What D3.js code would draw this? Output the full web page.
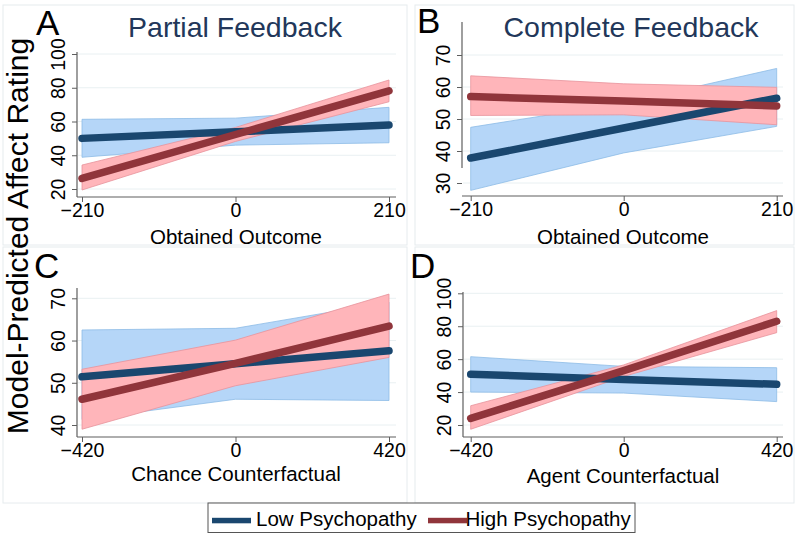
<!DOCTYPE html>
<html><head><meta charset="utf-8">
<script src="https://cdn.jsdelivr.net/npm/d3@7"></script>
<style>
body{margin:0;background:#fff}
svg{display:block}
text{font-family:"Liberation Sans",Arial,Helvetica,sans-serif}
</style>
</head><body>
<svg id="c" width="796" height="533"></svg>
<script>
// ---------- data ----------
const seriesNames = ["Low Psychopathy", "High Psychopathy"];
const panelLetters = ["A", "B", "C", "D"];
const panelTitles = ["Partial Feedback", "Complete Feedback", "", ""];
const xTitles = ["Obtained Outcome", "Obtained Outcome", "Chance Counterfactual", "Agent Counterfactual"];
const yTitle = "Model-Predicted Affect Rating";

const xPointsAB = [-210, 0, 210];
const xPointsCD = [-420, 0, 420];
const yTicksA = [20, 40, 60, 80, 100];
const yTicksB = [30, 40, 50, 60, 70];
const yTicksC = [40, 50, 60, 70];
const yTicksD = [20, 40, 60, 80, 100];

// Panel A
const lowMeanA = [50.0, 53.9, 57.9], lowLoA = [38.8, 46.0, 47.4], lowHiA = [61.3, 62.0, 68.4];
const highMeanA = [26.3, 52.3, 78.2], highLoA = [19.4, 48.2, 71.7], highHiA = [34.2, 56.5, 84.6];
// Panel B
const lowMeanB = [37.8, 47.2, 56.5], lowLoB = [27.7, 39.4, 47.7], lowHiB = [47.4, 55.0, 65.8];
const highMeanB = [57.0, 55.6, 54.1], highLoB = [51.1, 51.3, 48.2], highHiB = [63.5, 61.0, 59.9];
// Panel C
const lowMeanC = [51.4, 54.5, 57.6], lowLoC = [41.3, 46.1, 45.8], lowHiC = [62.5, 62.9, 69.1];
const highMeanC = [46.1, 54.6, 63.4], highLoC = [39.0, 49.3, 56.0], highHiC = [53.2, 60.1, 71.0];
// Panel D
const lowMeanD = [50.8, 47.7, 44.7], lowLoD = [40.0, 39.4, 34.2], lowHiD = [61.5, 55.6, 54.8];
const highMeanD = [24.0, 53.0, 83.0], highLoD = [17.4, 49.5, 76.1], highHiD = [31.7, 56.5, 89.5];

// ---------- style / layout ----------
const lineColors = ["#1a476f", "#90353b"];
const bandFill = ["#b5d6f8", "#ffb5ba"];
const bandStroke = ["#8dbbe6", "#e7939c"];
const titleColor = "#22375a";
const axisColor = "#5e5e5e";
const gridColor = "#e9f0f2";
const frameColor = "#e6ebee";

const layout = [
  {frame:[3,5,407,245], xr:[82,389], yd:[20,100], yr:[189,54], ax:197, xl:77, xrt:396, yTop:52, yBot:197,
   letter:[36,35], title:[235,37], xt:[236,244]},
  {frame:[415,5,794,245], xr:[470.7,776.7], yd:[30,70], yr:[183,55], ax:196, xl:462, xrt:783, yTop:22, yBot:168,
   letter:[417,33], title:[631,37], xt:[623,244]},
  {frame:[3,247,407,503], xr:[82,389], yd:[40,70], yr:[425,298.3], ax:437, xl:77, xrt:396, yTop:288, yBot:437,
   letter:[34,278], title:null, xt:[236,481]},
  {frame:[415,247,794,503], xr:[470.7,776.7], yd:[20,100], yr:[425,293.3], ax:437, xl:463, xrt:783, yTop:292, yBot:437,
   letter:[410,278], title:null, xt:[623,483]}
];

const panels = [
  {xs:xPointsAB, yt:yTicksA, low:[lowMeanA,lowLoA,lowHiA], high:[highMeanA,highLoA,highHiA]},
  {xs:xPointsAB, yt:yTicksB, low:[lowMeanB,lowLoB,lowHiB], high:[highMeanB,highLoB,highHiB]},
  {xs:xPointsCD, yt:yTicksC, low:[lowMeanC,lowLoC,lowHiC], high:[highMeanC,highLoC,highHiC]},
  {xs:xPointsCD, yt:yTicksD, low:[lowMeanD,lowLoD,lowHiD], high:[highMeanD,highLoD,highHiD]}
];

const svg = d3.select("#c");
svg.append("rect").attr("width",796).attr("height",533).attr("fill","#fff");

panels.forEach((p, i) => {
  const L = layout[i];
  const g = svg.append("g");
  g.append("rect").attr("x",L.frame[0]).attr("y",L.frame[1])
    .attr("width",L.frame[2]-L.frame[0]).attr("height",L.frame[3]-L.frame[1])
    .attr("fill","none").attr("stroke",frameColor).attr("stroke-width",1);

  const x = d3.scaleLinear().domain([p.xs[0], p.xs[2]]).range(L.xr);
  const y = d3.scaleLinear().domain(L.yd).range(L.yr);

  g.selectAll(".grid").data(p.yt).join("line")
    .attr("x1",L.xl+1).attr("x2",L.xrt).attr("y1",d=>y(d)).attr("y2",d=>y(d))
    .attr("stroke",gridColor).attr("stroke-width",1);

  const series = [p.low, p.high];
  series.forEach((s, k) => {
    const pts = p.xs.map((xv, j) => ({x:xv, m:s[0][j], lo:s[1][j], hi:s[2][j]}));
    const area = d3.area().x(d=>x(d.x)).y0(d=>y(d.lo)).y1(d=>y(d.hi));
    g.append("path").attr("d",area(pts)).attr("fill",bandFill[k])
      .attr("stroke",bandStroke[k]).attr("stroke-width",0.8);
  });
  series.forEach((s, k) => {
    const pts = p.xs.map((xv, j) => ({x:xv, m:s[0][j]}));
    const line = d3.line().x(d=>x(d.x)).y(d=>y(d.m));
    g.append("path").attr("d",line(pts)).attr("fill","none").attr("stroke",lineColors[k])
      .attr("stroke-width",7.5).attr("stroke-linecap","round").attr("stroke-linejoin","round");
  });

  const xAxis = d3.axisBottom(x).tickValues(p.xs).tickSize(5).tickFormat(d3.format("d"));
  const gx = g.append("g").attr("transform",`translate(0,${L.ax})`).call(xAxis);
  gx.select(".domain").remove();
  gx.selectAll(".tick line").attr("stroke",axisColor);
  gx.selectAll(".tick text").attr("y",20).attr("dy",0).attr("font-size",19.5)
    .attr("fill","#000").style("font-family",'"Liberation Sans",Arial,sans-serif');
  g.append("line").attr("x1",L.xl).attr("x2",L.xrt).attr("y1",L.ax).attr("y2",L.ax)
    .attr("stroke",axisColor).attr("stroke-width",1.2);

  const yAxis = d3.axisLeft(y).tickValues(p.yt).tickSize(5).tickFormat(d3.format("d"));
  const gy = g.append("g").attr("transform",`translate(${L.xl},0)`).call(yAxis);
  gy.select(".domain").remove();
  gy.selectAll(".tick line").attr("stroke",axisColor);
  gy.selectAll(".tick text").attr("x",0).attr("y",-12).attr("dy",0)
    .attr("transform","rotate(-90)").attr("text-anchor","middle").attr("font-size",19.5)
    .attr("fill","#000").style("font-family",'"Liberation Sans",Arial,sans-serif');
  g.append("line").attr("x1",L.xl).attr("x2",L.xl).attr("y1",L.yTop).attr("y2",L.yBot)
    .attr("stroke",axisColor).attr("stroke-width",1.2);

  g.append("text").attr("x",L.xt[0]).attr("y",L.xt[1]).attr("text-anchor","middle")
    .attr("font-size",20.5).attr("fill","#000").text(xTitles[i]);
  if (L.title && panelTitles[i]) {
    g.append("text").attr("x",L.title[0]).attr("y",L.title[1]).attr("text-anchor","middle")
      .attr("font-size",28.5).attr("fill",titleColor).text(panelTitles[i]);
  }
  g.append("text").attr("x",L.letter[0]).attr("y",L.letter[1]).attr("font-size",35)
    .attr("fill","#000").text(panelLetters[i]);
});

svg.append("text").attr("transform","translate(28,236) rotate(-90)").attr("text-anchor","middle")
  .attr("font-size",30).attr("fill","#000").text(yTitle);

const lg = svg.append("g");
lg.append("rect").attr("x",208).attr("y",503).attr("width",427).attr("height",29.5)
  .attr("fill","#fff").attr("stroke","#555").attr("stroke-width",1);
const legendItems = [{sx:212, tx:256}, {sx:428, tx:465.5}];
legendItems.forEach((it, k) => {
  lg.append("rect").attr("x",it.sx).attr("y",517.8).attr("width",39).attr("height",5.5).attr("fill",lineColors[k]);
  lg.append("text").attr("x",it.tx).attr("y",525.8).attr("font-size",20.5).attr("fill","#000").text(seriesNames[k]);
});
</script>
</body></html>
